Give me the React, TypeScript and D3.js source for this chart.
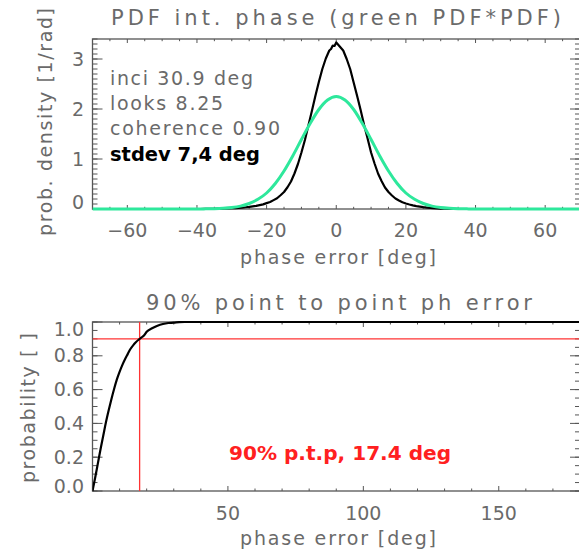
import React from 'react';
import * as d3 from 'd3';

// ---------- data ----------
const pdfX = [
  -40, -39, -38, -37, -36, -35, -34, -33, -32, -31, -30, -29, -28, -27, -26, -25, -24, -23, -22, -21,
  -20, -19, -18, -17, -16, -15, -14, -13, -12, -11, -10, -9, -8, -7, -6, -5, -4, -3, -2, -1.5, -1, -0.5,
  0, 0.5, 1, 1.5, 2, 3, 4, 5, 6, 7, 8, 9, 10, 11, 12, 13, 14, 15, 16, 17, 18, 19,
  20, 21, 22, 23, 24, 25, 26, 27, 28, 29, 30, 31, 32, 33, 34, 35, 40,
];
const pdfBlack = [
  0, 0, 0.002, 0.003, 0.004, 0.005, 0.007, 0.008, 0.011, 0.012, 0.015, 0.018, 0.023, 0.028, 0.035, 0.042, 0.052, 0.062, 0.077, 0.092,
  0.118, 0.14, 0.178, 0.215, 0.275, 0.34, 0.435, 0.55, 0.71, 0.9, 1.13, 1.38, 1.67, 1.96, 2.26, 2.54, 2.8, 3.01, 3.17, 3.2, 3.27, 3.26,
  3.33, 3.29, 3.25, 3.21, 3.17, 3.0, 2.8, 2.53, 2.26, 1.98, 1.68, 1.41, 1.13, 0.91, 0.71, 0.56, 0.43, 0.34, 0.27, 0.21, 0.17, 0.135,
  0.11, 0.09, 0.073, 0.058, 0.047, 0.036, 0.029, 0.022, 0.017, 0.012, 0.009, 0.006, 0.004, 0.003, 0.002, 0, 0,
];
const convX = [
  -70, -40, -37.5, -35, -32.5, -30, -27.5, -25, -22.5, -20, -17.5, -15, -12.5, -10, -7.5, -5, -2.5,
  0, 2.5, 5, 7.5, 10, 12.5, 15, 17.5, 20, 22.5, 25, 27.5, 30, 32.5, 35, 37.5, 40, 70,
];
const convGreen = [
  0, 0.001, 0.003, 0.006, 0.014, 0.029, 0.058, 0.11, 0.194, 0.32, 0.51, 0.76, 1.06, 1.39, 1.71, 1.99, 2.18,
  2.25, 2.18, 1.99, 1.71, 1.39, 1.06, 0.76, 0.51, 0.32, 0.194, 0.11, 0.058, 0.029, 0.014, 0.006, 0.003, 0.001, 0,
];
const cdfX = [0, 0.5, 1, 2, 3, 4, 5, 6, 7, 8, 9, 10, 11, 12, 13, 14, 15, 16, 17, 17.4, 18, 19, 20, 22, 24, 26, 28, 30, 32, 34, 180];
const cdfY = [0, 0.04, 0.08, 0.165, 0.25, 0.33, 0.41, 0.48, 0.545, 0.605, 0.66, 0.705, 0.745, 0.78, 0.81, 0.84, 0.862, 0.88, 0.895, 0.9, 0.908, 0.92, 0.942, 0.963, 0.978, 0.988, 0.994, 0.996, 0.999, 1, 1];

const topXTicks = [-60, -40, -20, 0, 20, 40, 60];
const topYTicks = [0, 1, 2, 3];
const botXTicks = [50, 100, 150];
const botYTicks = [0, 0.2, 0.4, 0.6, 0.8, 1.0];
const p90Value = 17.4;
const p90Level = 0.9;

const topTitle = 'PDF int. phase (green PDF*PDF)';
const botTitle = '90% point to point ph error';
const xLabel = 'phase error [deg]';
const topYLabel = 'prob. density [1/rad]';
const botYLabel = 'probability [ ]';
const infoLines = ['inci 30.9 deg', 'looks 8.25', 'coherence 0.90'];
const stdevLine = 'stdev 7,4 deg';
const p90Text = '90% p.t.p, 17.4 deg';

// ---------- layout ----------
const W = 579;
const H = 554;
const L = 92.5;
const R = 580;
const topT = 39;
const topB = 209;
const botT = 322;
const botB = 491;

const FONT = '"DejaVu Sans", sans-serif';
const GRAY = '#6a6a6a';
const AX = '#555';

function fmtTop(v: number) {
  return v < 0 ? '\u2212' + Math.abs(v) : String(v);
}

export default function App() {
  const xTop = d3.scaleLinear().domain([-70, 70]).range([L, R]);
  const yTop = d3.scaleLinear().domain([0, 3.4]).range([topB, topT]);
  const xBot = d3.scaleLinear().domain([0, 180]).range([L, R]);
  const yBot = d3.scaleLinear().domain([0, 1]).range([botB, botT]);

  const blackLine = d3
    .line<number>()
    .x((_, i) => xTop(pdfX[i]))
    .y((d) => yTop(d));
  const greenLine = d3
    .line<number>()
    .x((_, i) => xTop(convX[i]))
    .y((d) => yTop(d))
    .curve(d3.curveMonotoneX);
  const cdfLine = d3
    .line<number>()
    .x((_, i) => xBot(cdfX[i]))
    .y((d) => yBot(d))
    .curve(d3.curveMonotoneX);

  const topXMinor = d3.range(-70, 70.01, 5).filter((v) => !topXTicks.includes(v));
  const topYMinor = d3.range(0, 3.401, 0.1);
  const botXMinor = d3.range(0, 180.01, 10).filter((v) => !botXTicks.includes(v));
  const botYMinor = d3.range(0, 1.001, 0.05);

  const xTicksH = (
    xs: number[],
    sc: (v: number) => number,
    top: number,
    bottom: number,
    len: number,
    key: string
  ) =>
    xs.map((v, i) => (
      <g key={key + i}>
        <line x1={sc(v)} x2={sc(v)} y1={bottom} y2={bottom - len} stroke={AX} strokeWidth={1} />
        <line x1={sc(v)} x2={sc(v)} y1={top} y2={top + len} stroke={AX} strokeWidth={1} />
      </g>
    ));
  const yTicksV = (ys: number[], sc: (v: number) => number, len: number, key: string) =>
    ys.map((v, i) => (
      <g key={key + i}>
        <line x1={L} x2={L + len} y1={sc(v)} y2={sc(v)} stroke={AX} strokeWidth={1} />
        <line x1={R} x2={R - len} y1={sc(v)} y2={sc(v)} stroke={AX} strokeWidth={1} />
      </g>
    ));

  return (
    <svg
      width={W}
      height={H}
      style={{ position: 'absolute', left: 0, top: 0, background: '#fff' }}
      fontFamily={FONT}
    >
      <defs>
        <clipPath id="clipTop">
          <rect x={L} y={topT - 5} width={R - L} height={topB - topT + 8} />
        </clipPath>
        <clipPath id="clipBot">
          <rect x={L} y={botT - 3} width={R - L} height={botB - botT + 4} />
        </clipPath>
      </defs>
      <rect x={0} y={0} width={W} height={H} fill="#fff" />

      {/* ---------------- top panel ---------------- */}
      <text x={336} y={18} dy="0.35em" textAnchor="middle" fontSize={21} fill={GRAY} textLength={450} lengthAdjust="spacing">
        {topTitle}
      </text>
      <rect x={L} y={topT} width={R - L} height={topB - topT} fill="none" stroke={AX} strokeWidth={1.3} />
      {xTicksH(topXMinor, xTop, topT, topB, 2.2, 'txm')}
      {xTicksH(topXTicks, xTop, topT, topB, 4, 'txM')}
      {yTicksV(topYMinor, yTop, 5, 'tym')}
      {yTicksV(topYTicks, yTop, 10, 'tyM')}
      {topXTicks.map((v) => (
        <text key={'txl' + v} x={xTop(v)} y={230} dy="0.35em" textAnchor="middle" fontSize={19} fill={GRAY}>
          {fmtTop(v)}
        </text>
      ))}
      {topYTicks.map((v) => (
        <text
          key={'tyl' + v}
          x={84}
          y={Math.min(Math.max(yTop(v), topT + 20), topB - 7)}
          dy="0.35em"
          textAnchor="end"
          fontSize={19}
          fill={GRAY}
        >
          {v}
        </text>
      ))}
      <text x={338} y={257} dy="0.35em" textAnchor="middle" fontSize={19} fill={GRAY} textLength={196} lengthAdjust="spacing">
        {xLabel}
      </text>
      <text
        transform={`translate(45,122) rotate(-90)`}
        dy="0.35em"
        textAnchor="middle"
        fontSize={19}
        fill={GRAY}
        textLength={228}
        lengthAdjust="spacing"
      >
        {topYLabel}
      </text>
      <g clipPath="url(#clipTop)">
        <path d={blackLine(pdfBlack) || ''} fill="none" stroke="#000" strokeWidth={2.2} strokeLinejoin="round" />
        <path d={greenLine(convGreen) || ''} fill="none" stroke="#2ee89c" strokeWidth={3} />
      </g>
      {infoLines.map((t, i) => (
        <text
          key={'info' + i}
          x={110}
          y={78 + i * 25}
          dy="0.35em"
          fontSize={19}
          fill={GRAY}
          textLength={[143, 113, 170][i]}
          lengthAdjust="spacing"
        >
          {t}
        </text>
      ))}
      <text x={110} y={154} dy="0.35em" fontSize={19} fontWeight="bold" fill="#000" textLength={150} lengthAdjust="spacingAndGlyphs">
        {stdevLine}
      </text>

      {/* ---------------- bottom panel ---------------- */}
      <text x={339} y={303} dy="0.35em" textAnchor="middle" fontSize={21} fill={GRAY} textLength={386} lengthAdjust="spacing">
        {botTitle}
      </text>
      <rect x={L} y={botT} width={R - L} height={botB - botT} fill="none" stroke={AX} strokeWidth={1.3} />
      {xTicksH(botXMinor, xBot, botT, botB, 2.5, 'bxm')}
      {xTicksH(botXTicks, xBot, botT, botB, 5, 'bxM')}
      {yTicksV(botYMinor, yBot, 5, 'bym')}
      {yTicksV(botYTicks, yBot, 10, 'byM')}
      {botXTicks.map((v) => (
        <text key={'bxl' + v} x={xBot(v)} y={513} dy="0.35em" textAnchor="middle" fontSize={19} fill={GRAY}>
          {v}
        </text>
      ))}
      {botYTicks.map((v) => (
        <text
          key={'byl' + v}
          x={84}
          y={Math.min(Math.max(yBot(v), botT + 7), botB - 5)}
          dy="0.35em"
          textAnchor="end"
          fontSize={19}
          fill={GRAY}
        >
          {v.toFixed(1)}
        </text>
      ))}
      <text x={338} y={538} dy="0.35em" textAnchor="middle" fontSize={19} fill={GRAY} textLength={196} lengthAdjust="spacing">
        {xLabel}
      </text>
      <text
        transform={`translate(28,408) rotate(-90)`}
        dy="0.35em"
        textAnchor="middle"
        fontSize={19}
        fill={GRAY}
        textLength={150}
        lengthAdjust="spacing"
      >
        {botYLabel}
      </text>
      <g clipPath="url(#clipBot)">
        <line x1={xBot(0)} x2={xBot(180)} y1={yBot(p90Level)} y2={yBot(p90Level)} stroke="#ff3333" strokeWidth={1.3} />
        <line x1={xBot(p90Value)} x2={xBot(p90Value)} y1={yBot(0)} y2={yBot(1)} stroke="#ff3333" strokeWidth={1.3} />
        <path d={cdfLine(cdfY) || ''} fill="none" stroke="#000" strokeWidth={2.2} />
      </g>
      <text x={229} y={453} dy="0.35em" fontSize={19} fontWeight="bold" fill="#ff2020" textLength={222} lengthAdjust="spacingAndGlyphs">
        {p90Text}
      </text>
    </svg>
  );
}
